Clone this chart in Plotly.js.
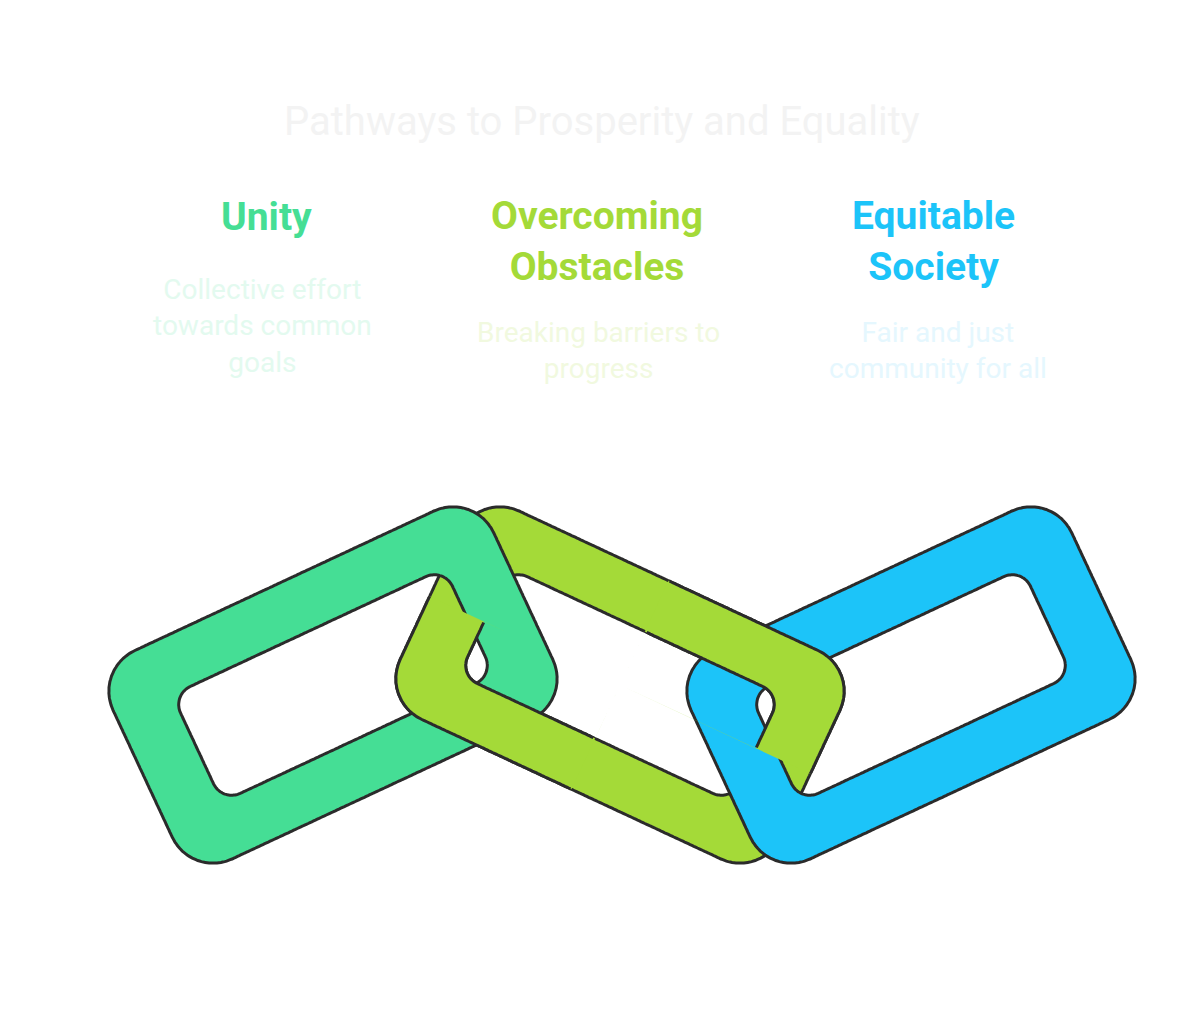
<!DOCTYPE html>
<html><head><meta charset="utf-8">
<script src="https://cdn.plot.ly/plotly-3.0.1.min.js"></script>
<style>body{margin:0;background:#fff}</style></head>
<body><div id="c" style="width:1204px;height:1012px"></div>
<script>
const titleText = "Pathways to Prosperity and Equality";
const categories = ["Unity", "Overcoming<br>Obstacles", "Equitable<br>Society"];
const descriptions = ["Collective effort<br>towards common<br>goals", "Breaking barriers to<br>progress", "Fair and just<br>community for all"];
const colors = ["#45de95", "#a4da38", "#1cc4f9"];
const paleColors = ["#e3faef", "#f1f9df", "#e5f7fe"];
const labelX = [266, 597, 933];
const headY = [217, 241, 241];
const descX = [262, 598, 938];
const descY = [326, 350, 350];
const linkCx = [333, 620, 911];
const linkCy = [685, 685, 685];
const linkAngle = [-25, 25, -25];

function rrect(cx, cy, w, h, r, ang, rev) {
  const a = ang * Math.PI / 180, c = Math.cos(a), s = Math.sin(a);
  const local = [];
  const corners = [[w/2-r, h/2-r, 0], [-(w/2-r), h/2-r, 90], [-(w/2-r), -(h/2-r), 180], [w/2-r, -(h/2-r), 270]];
  for (const [ux, uy, st] of corners) {
    for (let k = 0; k <= 12; k++) {
      const t = (st + k * 90 / 12) * Math.PI / 180;
      local.push([ux + r * Math.cos(t), uy + r * Math.sin(t)]);
    }
  }
  // densify
  const dense = [];
  for (let i = 0; i < local.length; i++) {
    const p = local[i], q = local[(i + 1) % local.length];
    const d = Math.hypot(q[0] - p[0], q[1] - p[1]), n = Math.max(1, Math.ceil(d / 2));
    for (let k = 0; k < n; k++) dense.push([p[0] + (q[0] - p[0]) * k / n, p[1] + (q[1] - p[1]) * k / n]);
  }
  const pts = dense.map(([u, v]) => [cx + u * c - v * s, cy + u * s + v * c]);
  return rev ? pts.reverse() : pts;
}
function clip(poly, f) {
  const out = [];
  for (let i = 0; i < poly.length; i++) {
    const p = poly[i], q = poly[(i + 1) % poly.length];
    const fp = f(p), fq = f(q);
    if (fp >= 0) out.push(p);
    if ((fp >= 0) !== (fq >= 0)) {
      const t = fp / (fp - fq);
      out.push([p[0] + t * (q[0] - p[0]), p[1] + t * (q[1] - p[1])]);
    }
  }
  return out;
}
const sub = pts => pts.length ? "M" + pts.map(p => p[0].toFixed(1) + "," + p[1].toFixed(1)).join("L") + "Z" : "";
function rings(i) {
  return {outer: rrect(linkCx[i], linkCy[i], 420, 230, 45, linkAngle[i], false),
          inner: rrect(linkCx[i], linkCy[i], 300, 118, 20, linkAngle[i], true)};
}
function localUV(i) {
  const a = linkAngle[i] * Math.PI / 180, c = Math.cos(a), s = Math.sin(a);
  return p => { const dx = p[0] - linkCx[i], dy = p[1] - linkCy[i]; return [dx * c + dy * s, -dx * s + dy * c]; };
}
const shapes = [];
function ringShape(i) {
  const R = rings(i);
  shapes.push({type: "path", xref: "x", yref: "y", path: sub(R.outer) + sub(R.inner),
    fillcolor: colors[i], line: {color: "#2b2b2b", width: 3}});
}
function piece(i, fs) {
  const R = rings(i);
  let o = R.outer, n = R.inner;
  for (const f of fs) { o = clip(o, f); n = clip(n, f); }
  shapes.push({type: "path", xref: "x", yref: "y", path: sub(o) + sub(n), fillcolor: colors[i], line: {width: 0}});
  for (const poly of [R.outer, R.inner]) {
    let run = [];
    const flush = () => { if (run.length > 1) shapes.push({type: "path", xref: "x", yref: "y",
      path: "M" + run.map(p => p[0].toFixed(1) + "," + p[1].toFixed(1)).join("L"), line: {color: "#2b2b2b", width: 3}}); run = []; };
    const L = poly.length;
    let start = 0;
    for (let k = 0; k < L; k++) if (!fs.every(f => f(poly[k]) >= 0)) { start = k; break; }
    for (let j = 0; j <= L; j++) {
      const p = poly[(start + j) % L];
      if (fs.every(f => f(p) >= 0)) run.push(p); else flush();
    }
    flush();
  }
}
const uv1 = localUV(1);
ringShape(1);
ringShape(0);
piece(1, [p => uv1(p)[1], p => -uv1(p)[0]]);
ringShape(2);
piece(1, [p => -uv1(p)[1], p => uv1(p)[0]]);

const annotations = [{x: 602, y: 121, text: titleText, showarrow: false, xref: "x", yref: "y",
  font: {family: "Roboto, sans-serif", size: 40, color: "#f3f3f3"}}];
categories.forEach((c, i) => {
  annotations.push({x: labelX[i], y: headY[i], text: "<b>" + c + "</b>", showarrow: false, xref: "x", yref: "y",
    font: {family: "Roboto, sans-serif", size: 39, color: colors[i]}});
  annotations.push({x: descX[i], y: descY[i], text: descriptions[i], showarrow: false, xref: "x", yref: "y",
    font: {family: "Roboto, sans-serif", size: 28, color: paleColors[i]}});
});

Plotly.newPlot("c", [{x: [0], y: [0], mode: "markers", marker: {opacity: 0}, hoverinfo: "skip"}], {
  width: 1204, height: 1012, margin: {l: 0, r: 0, t: 0, b: 0},
  paper_bgcolor: "#fff", plot_bgcolor: "#fff", showlegend: false,
  xaxis: {range: [0, 1204], visible: false, fixedrange: true},
  yaxis: {range: [1012, 0], visible: false, fixedrange: true},
  shapes, annotations
}, {displayModeBar: false, staticPlot: true});
</script></body></html>
